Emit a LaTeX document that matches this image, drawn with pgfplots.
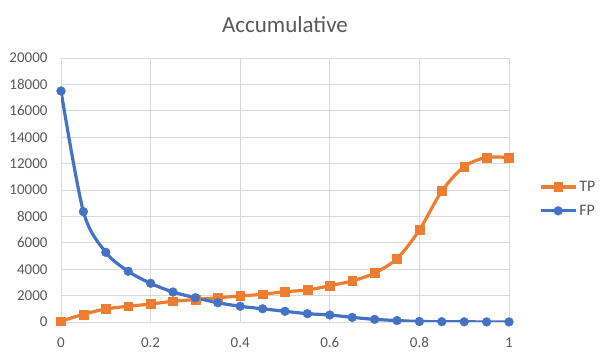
\documentclass[border=0pt]{standalone}
\usepackage{pgfplots}
\pgfplotsset{compat=1.18}
\usepackage{fontspec}
\setmainfont{Carlito}
\definecolor{tpc}{HTML}{ED7D31}
\definecolor{fpc}{HTML}{4472C4}
\definecolor{txt}{HTML}{595959}
\definecolor{gridc}{HTML}{D9D9D9}
\begin{document}
\begin{tikzpicture}
\begin{axis}[
    scale only axis,
    width=448pt, height=264pt,
    xmin=0, xmax=1, ymin=0, ymax=20000,
    xtick={0,0.2,...,1}, ytick={0,2000,...,20000},
    scaled y ticks=false,
    grid=major,
    grid style={gridc, line width=0.8pt},
    axis line style={draw=none},
    tick style={draw=none},
    /pgf/number format/1000 sep={},
    /pgf/number format/assume math mode=true,
    xticklabel style={font=\fontsize{15}{16}\selectfont, text=txt, yshift=-12pt},
    yticklabel style={font=\fontsize{15}{16}\selectfont, text=txt, xshift=-10pt},
    title={Accumulative},
    title style={font=\fontsize{23}{26}\selectfont, text=txt, yshift=16pt},
    legend style={at={(1.06,0.466)}, anchor=west, draw=none, fill=none,
        font=\fontsize{16}{17}\selectfont, text=txt, row sep=8pt},
    legend cell align=left,
    legend image code/.code={
        \draw[mark repeat=2, mark phase=2] plot coordinates {(0pt,0pt) (17.5pt,0pt) (35pt,0pt)};
    },
]
\addplot[tpc, line width=3.2pt, smooth, mark=square*, mark size=4.4pt,
    mark options={line width=0.4pt, fill=tpc, draw=tpc}]
coordinates {
    (0,60) (0.05,580) (0.1,985) (0.15,1190) (0.2,1360) (0.25,1570)
    (0.3,1700) (0.35,1840) (0.4,1970) (0.45,2100) (0.5,2300) (0.55,2420)
    (0.6,2750) (0.65,3110) (0.7,3710) (0.75,4800) (0.8,6970) (0.85,9920)
    (0.9,11770) (0.95,12470) (1,12450)
};
\addlegendentry{TP}
\addplot[fpc, line width=3.2pt, smooth, mark=*, mark size=4.4pt,
    mark options={line width=0.4pt, fill=fpc, draw=fpc}]
coordinates {
    (0,17500) (0.05,8360) (0.1,5280) (0.15,3840) (0.2,2930) (0.25,2270)
    (0.3,1840) (0.35,1460) (0.4,1190) (0.45,1000) (0.5,810) (0.55,630)
    (0.6,530) (0.65,350) (0.7,200) (0.75,110) (0.8,40) (0.85,25)
    (0.9,15) (0.95,8) (1,5)
};
\addlegendentry{FP}
\end{axis}
\path ([shift={(-61pt,-38pt)}]current axis.south west) rectangle ([shift={(98pt,58pt)}]current axis.north east);
\end{tikzpicture}
\end{document}
